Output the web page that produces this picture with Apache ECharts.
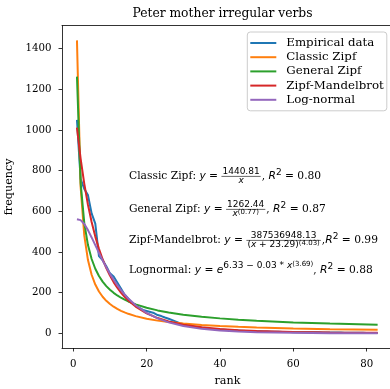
<!DOCTYPE html>
<html><head><meta charset="utf-8">
<script src="https://cdn.jsdelivr.net/npm/echarts@6/dist/echarts.min.js"></script>
<style>html,body{margin:0;padding:0;background:#fff;overflow:hidden}#c{width:390px;height:389px}</style>
</head><body><div id="c"></div>
<script>
// ---------- data ----------
const titleText = 'Peter mother irregular verbs';
const xTicks = [0, 20, 40, 60, 80];
const xTickLabels = ['0', '20', '40', '60', '80'];
const yTicks = [0, 200, 400, 600, 800, 1000, 1200, 1400];
const yTickLabels = ['0', '200', '400', '600', '800', '1000', '1200', '1400'];
const seriesNames = ['Empirical data', 'Classic Zipf', 'General Zipf', 'Zipf-Mandelbrot', 'Log-normal'];
const ranks = [];
for (let r = 1; r <= 83; r++) ranks.push(r);
const empirical = [1050, 760, 710, 680, 590, 540, 380, 360, 330, 295,
  280, 250, 220, 190, 170, 150, 140, 125, 115, 110,
  105, 100, 90, 85, 78, 72, 65, 58, 50, 45,
  40, 36, 33, 30, 28, 25, 23, 22, 20, 19,
  18, 17, 16, 15, 14, 13, 12, 12, 11, 10,
  10, 9, 9, 8, 8, 8, 7, 7, 7, 6,
  6, 6, 6, 5, 5, 5, 5, 4, 4, 4,
  4, 4, 4, 3, 3, 3, 3, 3, 3, 2, 2, 2, 2];
const fitRanks = [1, 2, 3, 4, 5, 6, 7, 8, 9, 10, 11, 12, 13, 14, 15, 17, 20, 23, 26, 30, 35, 40, 45, 50, 60, 70, 83];
const classicZipf = [1440.8, 720.4, 480.3, 360.2, 288.2, 240.1, 205.8, 180.1, 160.1, 144.1, 131.0, 120.1, 110.8, 102.9, 96.1, 84.8, 72.0, 62.6, 55.4, 48.0, 41.2, 36.0, 32.0, 28.8, 24.0, 20.6, 17.4];
const generalZipf = [1262.4, 740.4, 541.8, 434.1, 365.6, 317.7, 282.2, 254.6, 232.5, 214.4, 199.2, 186.3, 175.2, 165.5, 156.9, 142.5, 125.7, 112.9, 102.7, 92.0, 81.7, 73.7, 67.3, 62.1, 53.9, 47.9, 42.1];
const zipfMandelbrot = [1011.7, 859.8, 735.5, 632.7, 547.3, 475.8, 415.6, 364.6, 321.2, 284.0, 252.1, 224.5, 200.6, 179.8, 161.6, 131.6, 98.5, 75.2, 58.4, 42.6, 29.7, 21.3, 15.7, 11.8, 7.05, 4.47, 2.64];
const logNormal = [561.2, 556.9, 537.9, 507.7, 471.7, 433.7, 395.5, 358.9, 324.5, 292.6, 263.4, 236.9, 212.8, 191.1, 171.6, 138.4, 100.5, 73.4, 53.9, 36.0, 22.1, 13.8, 8.74, 5.62, 2.42, 1.09, 0.41];
const colors = ['#1f77b4', '#ff7f0e', '#2ca02c', '#d62728', '#9467bd'];

// ---------- helpers ----------
const SERIF = '"DejaVu Serif", serif';
const SANS = '"DejaVu Sans", sans-serif';
const TS = 10.7, SS = 9, SSS = 7;
const F_TXT = TS + 'px ' + SERIF;
const F_MI = 'italic ' + TS + 'px ' + SANS;
const F_M = TS + 'px ' + SANS;
const F_S = SS + 'px ' + SANS;
const F_SI = 'italic ' + SS + 'px ' + SANS;
const F_SS = SSS + 'px ' + SANS;
const mctx = document.createElement('canvas').getContext('2d');
function tw(t, f) { mctx.font = f; return mctx.measureText(t).width; }
function fsize(f) { return parseFloat(f.replace('italic ', '')); }
function runsW(runs) { return runs.reduce((s, r) => s + tw(r.t, r.f), 0); }
function placeRuns(runs, x, yb, els) {
  for (const r of runs) {
    const s = fsize(r.f);
    els.push({ type: 'text', x: x, y: yb + (r.dy || 0) - 0.34 * s, silent: true,
      style: { text: r.t, font: r.f, fill: '#000', verticalAlign: 'middle', align: 'left' } });
    x += tw(r.t, r.f);
  }
  return x;
}
function buildLine(parts, x0, yb, els) {
  let x = x0;
  for (const p of parts) {
    if (p.frac) {
      const nw = runsW(p.frac.num), dw = runsW(p.frac.den);
      const fw = Math.max(nw, dw) + 2;
      const ax = yb - 3.6;
      placeRuns(p.frac.num, x + (fw - nw) / 2, ax - 1.6, els);
      placeRuns(p.frac.den, x + (fw - dw) / 2, ax + 7.8, els);
      els.push({ type: 'line', silent: true, shape: { x1: x, y1: ax, x2: x + fw, y2: ax }, style: { stroke: '#000', lineWidth: 0.6 } });
      x += fw + 1;
    } else {
      x = placeRuns([p], x, yb, els);
    }
  }
}
const T = (t) => ({ t: t, f: F_TXT });
const MI = (t) => ({ t: t, f: F_MI });
const M = (t) => ({ t: t, f: F_M });
const R2 = (v, lead) => [T(lead), MI('R'), { t: '2', f: F_S, dy: -4.5 }, M(' = '), T(v)];

const lines = [
  [T('Classic Zipf: '), MI('y'), M(' = '), { frac: { num: [{ t: '1440.81', f: F_S }], den: [{ t: 'x', f: F_SI }] } }, ...R2('0.80', ', ')],
  [T('General Zipf: '), MI('y'), M(' = '), { frac: { num: [{ t: '1262.44', f: F_S }], den: [{ t: 'x', f: F_SI }, { t: '(0.77)', f: F_SS, dy: -2.8 }] } }, ...R2('0.87', ', ')],
  [T('Zipf-Mandelbrot: '), MI('y'), M(' = '), { frac: { num: [{ t: '387536948.13', f: F_S }], den: [{ t: '(', f: F_S }, { t: 'x', f: F_SI }, { t: ' + 23.29)', f: F_S }, { t: '(4.03)', f: F_SS, dy: -2.8 }] } }, ...R2('0.99', ',')],
  [T('Lognormal: '), MI('y'), M(' = '), MI('e'), { t: '6.33 \u2212 0.03 * ', f: F_S, dy: -4.8 }, { t: 'x', f: F_SI, dy: -4.8 }, { t: '(3.69)', f: F_SS, dy: -7.5 }, ...R2('0.88', ', ')]
];
const graphics = [];
const baselines = [180, 213, 244, 274];
lines.forEach((ln, i) => buildLine(ln, 129, baselines[i], graphics));
graphics.push({ type: 'text', x: 222.5, y: 13.5, silent: true,
  style: { text: titleText, font: '12.3px ' + SERIF, fill: '#000', align: 'center', verticalAlign: 'middle' } });

// ---------- chart ----------
const chart = echarts.init(document.getElementById('c'), null, { renderer: 'canvas' });
const fits = [classicZipf, generalZipf, zipfMandelbrot, logNormal];
const series = [{
  name: seriesNames[0], type: 'line', showSymbol: false, symbol: 'none', xAxisIndex: 0,
  data: ranks.map((r, i) => [r, empirical[i]]),
  lineStyle: { width: 2, color: colors[0] }, itemStyle: { color: colors[0] }
}].concat(fits.map((arr, k) => ({
  name: seriesNames[k + 1], type: 'line', showSymbol: false, symbol: 'none', xAxisIndex: 0,
  data: fitRanks.map((r, i) => [r, arr[i]]),
  lineStyle: { width: 2, color: colors[k + 1] }, itemStyle: { color: colors[k + 1] }
})));

const X_MIN = -3.08, X_MAX = 87.19;
chart.setOption({
  animation: false,
  backgroundColor: '#fff',
  grid: { left: 62, top: 25.7, bottom: 41, right: -3, outerBoundsMode: 'none', containLabel: false, show: false },
  xAxis: [{
    type: 'value', min: X_MIN, max: X_MAX, name: 'rank', nameLocation: 'middle', nameGap: 28,
    nameTextStyle: { fontFamily: 'DejaVu Serif', fontSize: 11.2, color: '#000' },
    axisLine: { show: true, onZero: false, lineStyle: { color: '#000', width: 0.8 } },
    axisTick: { show: true, length: 3.5, lineStyle: { color: '#000', width: 0.8 }, customValues: xTicks },
    axisLabel: { customValues: xTicks, margin: 11, color: '#000', fontFamily: 'DejaVu Serif', fontSize: 10.2,
      formatter: (v) => { const i = xTicks.indexOf(v); return i >= 0 ? xTickLabels[i] : ''; } },
    splitLine: { show: false }
  }, {
    type: 'value', position: 'top', min: X_MIN, max: X_MAX,
    axisLine: { show: true, onZero: false, lineStyle: { color: '#000', width: 0.8 } },
    axisTick: { show: false }, axisLabel: { show: false }, splitLine: { show: false }
  }],
  yAxis: {
    type: 'value', min: -72, max: 1513, name: 'frequency', nameLocation: 'middle', nameGap: 36,
    nameTextStyle: { fontFamily: 'DejaVu Serif', fontSize: 11.2, color: '#000' },
    axisLine: { show: true, onZero: false, lineStyle: { color: '#000', width: 0.8 } },
    axisTick: { show: true, length: 3.5, lineStyle: { color: '#000', width: 0.8 }, customValues: yTicks },
    axisLabel: { customValues: yTicks, margin: 10.5, color: '#000', fontFamily: 'DejaVu Serif', fontSize: 10.2,
      formatter: (v) => { const i = yTicks.indexOf(v); return i >= 0 ? yTickLabels[i] : ''; } },
    splitLine: { show: false }
  },
  legend: {
    orient: 'vertical', left: 247.3, top: 32, data: seriesNames,
    icon: 'rect', itemWidth: 26, itemHeight: 2, itemGap: 0.2,
    textStyle: { fontFamily: 'DejaVu Serif', fontSize: 11.8, color: '#000', lineHeight: 14, padding: [0, 0, 0, 5] },
    borderColor: '#cccccc', borderWidth: 1, borderRadius: 3, padding: [4, 3, 4, 3],
    backgroundColor: 'rgba(255,255,255,0.8)'
  },
  graphic: graphics,
  series: series
});
</script></body></html>
